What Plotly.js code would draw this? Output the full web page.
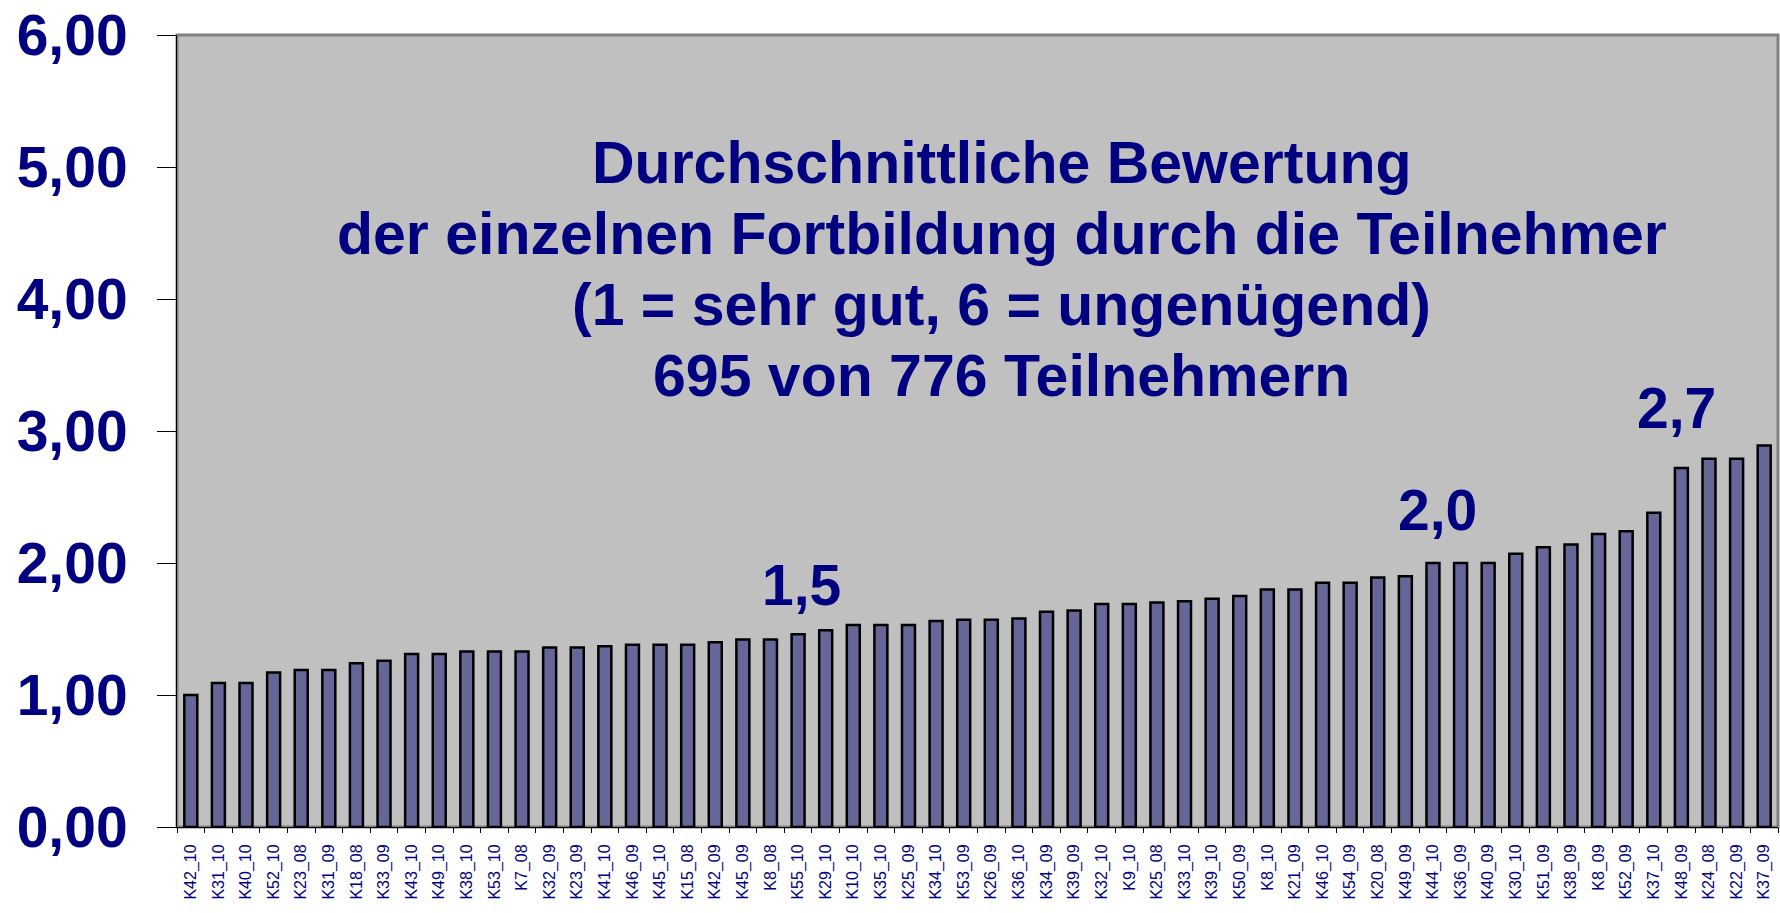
<!DOCTYPE html>
<html>
<head>
<meta charset="utf-8">
<script src="https://cdn.plot.ly/plotly-3.0.1.min.js"></script>
<style>html,body{margin:0;padding:0;background:#fff;}#chart{width:1780px;height:913px;}</style>
</head>
<body>
<div id="chart"></div>
<script>
const categories = ["K42_10","K31_10","K40_10","K52_10","K23_08","K31_09","K18_08","K33_09","K43_10","K49_10","K38_10","K53_10","K7_08","K32_09","K23_09","K41_10","K46_09","K45_10","K15_08","K42_09","K45_09","K8_08","K55_10","K29_10","K10_10","K35_10","K25_09","K34_10","K53_09","K26_09","K36_10","K34_09","K39_09","K32_10","K9_10","K25_08","K33_10","K39_10","K50_09","K8_10","K21_09","K46_10","K54_09","K20_08","K49_09","K44_10","K36_09","K40_09","K30_10","K51_09","K38_09","K8_09","K52_09","K37_10","K48_09","K24_08","K22_09","K37_09"];
const ratings = [1.00,1.09,1.09,1.17,1.19,1.19,1.24,1.26,1.31,1.31,1.33,1.33,1.33,1.36,1.36,1.37,1.38,1.38,1.38,1.40,1.42,1.42,1.46,1.49,1.53,1.53,1.53,1.56,1.57,1.57,1.58,1.63,1.64,1.69,1.69,1.70,1.71,1.73,1.75,1.80,1.80,1.85,1.85,1.89,1.90,2.00,2.00,2.00,2.07,2.12,2.14,2.22,2.24,2.38,2.72,2.79,2.79,2.89];
const titleLines = ["Durchschnittliche Bewertung","der einzelnen Fortbildung durch die Teilnehmer","(1 = sehr gut, 6 = ungenügend)","695 von 776 Teilnehmern"];
const markerLabels = ["1,5","2,0","2,7"];
const yTicks = [0,1,2,3,4,5,6];

const BOLDFONT = "'Liberation Sans', Arial, sans-serif";
const NAVY = "#000080";

const titleY = [0.838, 0.749, 0.659, 0.569];
const labelPos = [[0.3898, 0.306], [0.7876, 0.400], [0.9363, 0.529]];

const annotations = [];
titleLines.forEach((t, i) => annotations.push({
  text: t, xref: "paper", yref: "paper", x: 0.515, y: titleY[i],
  xanchor: "center", yanchor: "middle", showarrow: false,
  font: {family: BOLDFONT, size: 59, color: NAVY, weight: "bold"}
}));
markerLabels.forEach((t, i) => annotations.push({
  text: t, xref: "paper", yref: "paper", x: labelPos[i][0], y: labelPos[i][1],
  xanchor: "center", yanchor: "middle", showarrow: false,
  font: {family: BOLDFONT, size: 57, color: NAVY, weight: "bold"}
}));

const trace = {
  type: "bar", x: categories, y: ratings,
  marker: {color: "#666699", line: {color: "#000000", width: 2.5}},
  hoverinfo: "x+y"
};

const layout = {
  width: 1780, height: 913,
  margin: {l: 177, r: 2, t: 35, b: 86, pad: 0},
  paper_bgcolor: "#ffffff", plot_bgcolor: "#c0c0c0",
  separators: ",.",
  bargap: 0.53,
  showlegend: false,
  xaxis: {
    type: "category", tickangle: -90, ticks: "outside", ticklen: 5, tickcolor: "#000",
    tickson: "boundaries", showline: true, linecolor: "#000", linewidth: 1,
    showgrid: false, ticklabelstandoff: 10,
    tickfont: {family: "'Liberation Sans', Arial, sans-serif", size: 16, color: NAVY}
  },
  yaxis: {
    range: [0, 6], tickvals: yTicks, tickformat: ".2f", ticks: "outside", ticklen: 19,
    tickcolor: "#000", showline: true, linecolor: "#000", linewidth: 1,
    showgrid: false, zeroline: false, ticklabelstandoff: 18, ticklabeloverflow: "allow",
    tickfont: {family: BOLDFONT, size: 57, color: NAVY, weight: "bold"}
  },
  shapes: [{type: "rect", xref: "paper", yref: "paper", x0: 0, x1: 1, y0: 0, y1: 1,
    line: {color: "#808080", width: 3}, layer: "below"}],
  annotations: annotations
};

Plotly.newPlot("chart", [trace], layout, {displayModeBar: false, staticPlot: true});
</script>
</body>
</html>
